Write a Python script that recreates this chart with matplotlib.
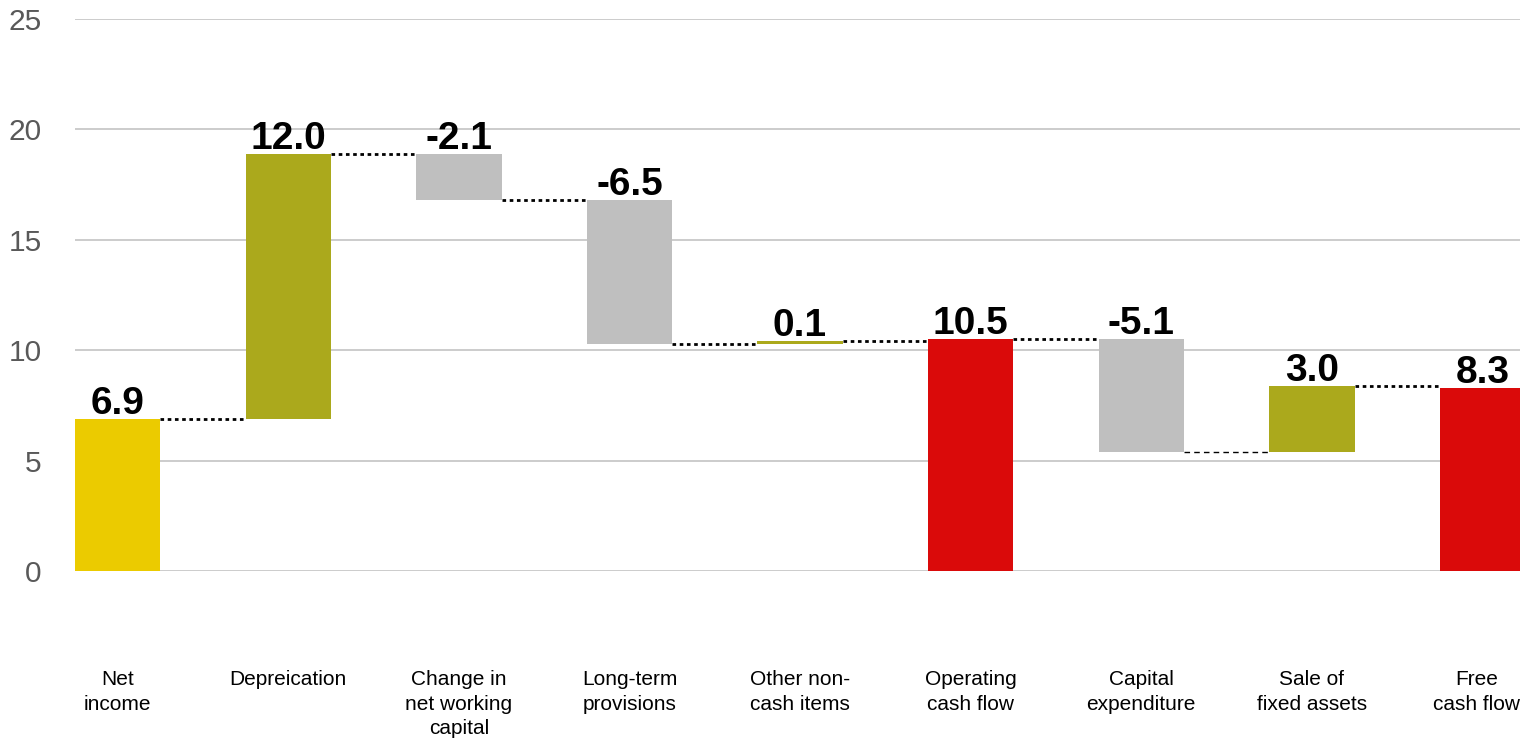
import matplotlib
matplotlib.use("Agg")
import matplotlib.pyplot as plt
from matplotlib.transforms import blended_transform_factory

plt.rcParams["font.family"] = ["Liberation Sans", "DejaVu Sans"]

# cash flow bridge, in the order it is drawn
categories = [
    "Net\nincome",
    "Depreication",
    "Change in\nnet working\ncapital",
    "Long-term\nprovisions",
    "Other non-\ncash items",
    "Operating\ncash flow",
    "Capital\nexpenditure",
    "Sale of\nfixed assets",
    "Free\ncash flow",
]
values = [6.9, 12.0, -2.1, -6.5, 0.1, 10.5, -5.1, 3.0, 8.3]
is_total = [True, False, False, False, False, True, False, False, True]

YELLOW = "#ebcb00"
OLIVE = "#aba91c"
GREY = "#bfbfbf"
RED = "#da0a0a"


def bar_color(i, v):
    if i == 0:
        return YELLOW
    if is_total[i]:
        return RED
    return OLIVE if v > 0 else GREY


# running total -> bottom/height of each floating bar
bottoms, heights, levels = [], [], []
running = 0.0
for v, tot in zip(values, is_total):
    if tot:
        bottoms.append(0.0)
        heights.append(v)
        running = v
    else:
        bottoms.append(running if v >= 0 else running + v)
        heights.append(abs(v))
        running += v
    levels.append(running)

fig = plt.figure(figsize=(15.2, 7.41), dpi=100)
ax = fig.add_axes([75 / 1520, 1 - 571 / 741, 1 - 75 / 1520, 552 / 741])

xs = list(range(len(values)))
width = 0.5
ax.bar(xs, heights, bottom=bottoms, width=width,
       color=[bar_color(i, v) for i, v in enumerate(values)], zorder=3)

# connectors between neighbouring bars (capex -> sale drawn thin dashed)
for i in range(len(values) - 1):
    x0 = xs[i] + width / 2
    x1 = xs[i + 1] - width / 2
    y = levels[i]
    if i == 6:
        ax.plot([x0, x1], [y, y], color="black", lw=1.0,
                linestyle=(0, (4, 3)), zorder=4)
    else:
        ax.plot([x0, x1], [y, y], color="black", lw=2.0,
                linestyle=(0, (1.3, 1.3)), zorder=4)

# value labels above each bar
for i, v in enumerate(values):
    top = bottoms[i] + heights[i]
    ax.annotate(f"{v:.1f}", (xs[i], top), xytext=(0, 5),
                textcoords="offset pixels", ha="center", va="baseline",
                fontsize=28, fontweight="bold", color="black", zorder=5)

ax.set_xlim(-0.25, 8.22)
ax.set_ylim(0, 25)
ax.set_yticks([0, 5, 10, 15, 20, 25])
ax.tick_params(axis="y", length=0, pad=24, labelsize=21.5, labelcolor="#595959")
ax.set_xticks([])
ax.yaxis.grid(True, color="#c8c8c8", lw=1.3, zorder=0)
ax.set_axisbelow(True)
for s in ax.spines.values():
    s.set_visible(False)

trans = blended_transform_factory(ax.transData, ax.transAxes)
label_x = [float(x) for x in xs]
label_x[-1] = 7.965  # keep the last label inside the figure
for x, lab in zip(label_x, categories):
    ax.text(x, -0.18, lab, transform=trans, ha="center", va="top",
            fontsize=15, linespacing=1.36, color="black")

fig.savefig("out.png", dpi=100)
